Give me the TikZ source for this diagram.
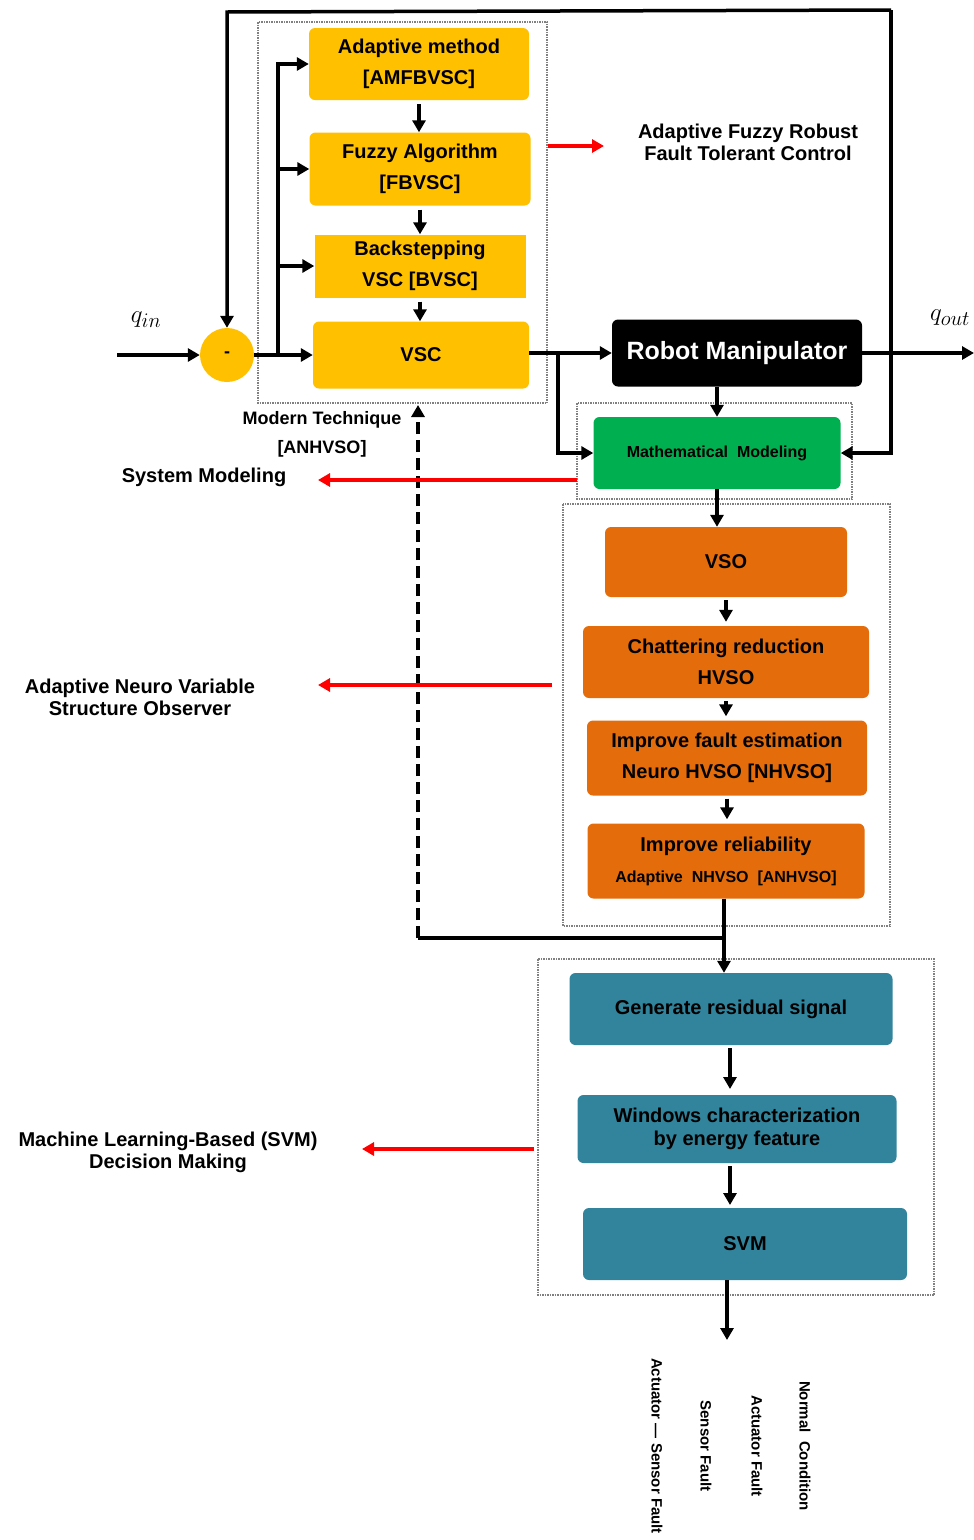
\documentclass[tikz,border=0pt]{standalone}
\usepackage{fontspec}
\setmainfont{Liberation Sans}
\usepackage{tikz}
\usetikzlibrary{arrows.meta,positioning}
\definecolor{ctrlyellow}{HTML}{FFC000}
\definecolor{obsorange}{HTML}{E46C0A}
\definecolor{modgreen}{HTML}{00B050}
\definecolor{svmteal}{HTML}{31849B}
\newcommand{\fs}[1]{\fontsize{#1}{#1}\selectfont\bfseries}
\begin{document}
\begin{tikzpicture}[x=1pt,y=-1pt,
	box/.style={rounded corners=6pt,align=center,inner sep=2pt,font=\fontsize{20}{31}\selectfont\bfseries},
	grp/.style={draw=gray,densely dotted,line width=1.5pt},
	arr/.style={line width=3.5pt,-{Triangle[length=12pt,width=13pt]}},
	redarr/.style={red,line width=3.5pt,-{Triangle[length=12pt,width=13pt]}},
	side/.style={align=center,font=\fontsize{20}{22}\selectfont\bfseries}]
			\useasboundingbox (0,0) rectangle (974,1540);
			% groups
			\draw[grp] (258,22) rectangle (547,403);
			\draw[grp] (577,403) rectangle (852,499);
			\draw[grp] (563,504) rectangle (890,926);
			\draw[grp] (538,959) rectangle (934,1295);
			% controller chain
			\node[box,fill=ctrlyellow,minimum width=220pt,minimum height=72pt] (amf) at (419,64) {Adaptive method\\{}[AMFBVSC]};
			\node[box,fill=ctrlyellow,minimum width=221pt,minimum height=73pt] (fbvsc) at (420,169) {Fuzzy Algorithm\\{}[FBVSC]};
			\node[box,fill=ctrlyellow,rounded corners=0pt,minimum width=211pt,minimum height=63pt] (bvsc) at (420,266) {Backstepping\\VSC [BVSC]};
			\node[box,fill=ctrlyellow,minimum width=216pt,minimum height=67pt] (vsc) at (421,355) {VSC};
			\node[circle,fill=ctrlyellow,minimum size=54pt,font=\fs{18}] (sum) at (227,355) {-};
			\foreach \a/\b in {amf/fbvsc,fbvsc/bvsc,bvsc/vsc} \draw[arr,shorten <=4pt] (\a) -- (\a |- \b.north);
			\coordinate (qin) at (117,355);
			\coordinate (fork) at (278,355);
			\node[font=\fontsize{28}{28}\selectfont] (qinlbl) at (146,320) {$q_{in}$};
			\draw[arr] (qin) -- (sum);
			\draw[line width=3.5pt] (sum) -- (fork);
			\draw[arr] (fork) -- (vsc);
			\foreach \b in {amf,fbvsc,bvsc} \draw[arr] (fork) |- (\b);
			% plant and model
			\node[box,fill=black,text=white,minimum width=250pt,minimum height=67pt,font=\fontsize{25}{25}\selectfont\bfseries] (rm) at (737,353) {Robot Manipulator};
			\node[box,fill=modgreen,minimum width=247pt,minimum height=72pt,font=\fs{16}] (mm) at (717,453) {Mathematical~~Modeling};
			\coordinate (tap) at (558,355);
			\coordinate (qout) at (974,353);
			\coordinate (fbtr) at (891,10);
			\coordinate (fbtl) at (227,12);
			\node[font=\fontsize{28}{28}\selectfont] (qoutlbl) at (950,318) {$q_{out}$};
			\draw[arr] (vsc.east |- rm) -- (rm);
			\draw[arr] (tap) |- (mm);
			\draw[arr] (rm) -- (qout);
			\draw[arr] (rm.south -| mm) -- (mm);
			\draw[arr] (fbtr) |- (mm);
			\draw[arr] (fbtr) -- (fbtl) -- (sum);
			% observer chain
			\node[box,fill=obsorange,minimum width=242pt,minimum height=70pt] (vso) at (726,562) {VSO};
			\node[box,fill=obsorange,minimum width=286pt,minimum height=72pt] (hvso) at (726,662) {Chattering reduction\\HVSO};
			\node[box,fill=obsorange,minimum width=280pt,minimum height=75pt] (nhvso) at (727,758) {Improve fault estimation\\Neuro HVSO [NHVSO]};
			\node[box,fill=obsorange,minimum width=277pt,minimum height=75pt] (anhvso) at (726,861) {Improve reliability\\{\fontsize{16}{16}\selectfont Adaptive~~NHVSO~~[ANHVSO]}};
			\draw[arr] (mm) -- (mm |- vso.north);
			\foreach \a/\b in {vso/hvso,hvso/nhvso,nhvso/anhvso} \draw[arr,shorten <=3pt,shorten >=4pt] (\a) -- (\a |- \b.north);
			% decision chain
			\node[box,fill=svmteal,minimum width=323pt,minimum height=72pt] (res) at (731,1009) {Generate residual signal};
			\node[box,fill=svmteal,minimum width=319pt,minimum height=68pt,font=\fontsize{20}{23}\selectfont\bfseries] (win) at (737,1129) {Windows characterization\\by energy feature};
			\node[box,fill=svmteal,minimum width=324pt,minimum height=72pt] (svm) at (745,1244) {SVM};
			\coordinate (split) at (724,938);
			\coordinate (bend) at (418,938);
			\coordinate (mtop) at (418,405);
			\coordinate (out) at (727,1340);
			\draw[arr] (anhvso.south -| split) -- (split |- res.north);
			\draw[line width=3.5pt] (split) -- (bend);
			\draw[arr,dash pattern=on 12pt off 6pt] (bend) -- (mtop);
			\draw[arr,shorten <=3pt,shorten >=6pt] (res.south -| 730,0) -- (730,1095);
			\draw[arr,shorten <=3pt,shorten >=3pt] (win.south -| 730,0) -- (730,1208);
			\draw[arr] (svm.south -| out) -- (out);
			% annotations
			\node[align=center,font=\fontsize{18}{29}\selectfont\bfseries] (mtech) at (322,434) {Modern Technique\\{}[ANHVSO]};
			\node[side] (afr) at (748,142) {Adaptive Fuzzy Robust\\Fault Tolerant Control};
			\node[side] (sysmod) at (204,477) {System Modeling};
			\node[side] (anvso) at (140,697) {Adaptive Neuro Variable\\Structure Observer};
			\node[side] (mlsvm) at (168,1152) {Machine Learning-Based (SVM)\\Decision Making};
			\draw[redarr] (548,146) -- (604,146);
			\draw[redarr] (577,480) -- (318,480);
			\draw[redarr] (552,685) -- (318,685);
			\draw[redarr] (534,1149) -- (362,1149);
			% fault classes
			\foreach \x/\t/\n in {657/Actuator --- Sensor Fault/as,706/Sensor Fault/sf,757/Actuator Fault/af,805/Normal~~Condition/nc} \node[rotate=-90,font=\fs{15}] (cls\n) at (\x,1446) {\t};
		\end{tikzpicture}
\end{document}
